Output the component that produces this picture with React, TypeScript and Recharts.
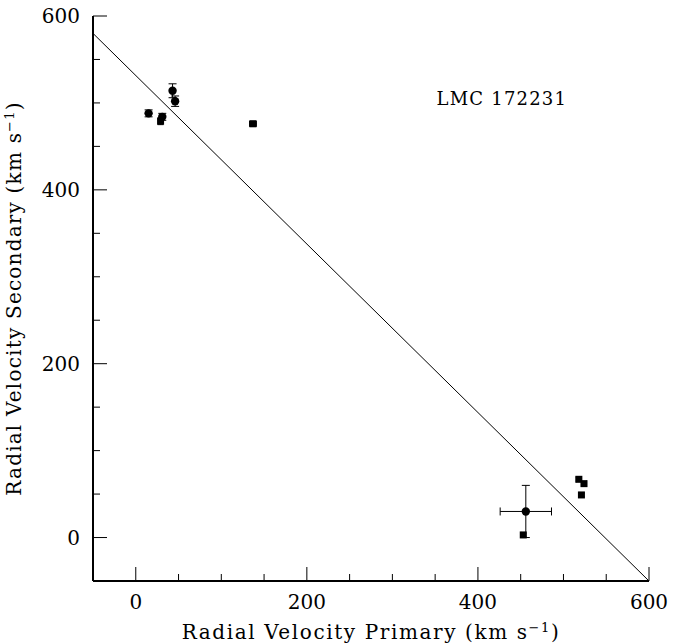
import React from 'react';
import { ScatterChart, Scatter, XAxis, YAxis, ErrorBar, ReferenceLine, ReferenceDot, Label } from 'recharts';

// circles with error bars
const circleX = [15, 31, 43, 46, 456];
const circleY = [488, 484, 514, 502, 30];
const circleErrX = [0, 0, 0, 0, 30];
const circleErrY = [4, 4, 8, 6, 30];

// filled squares
const squareX = [29, 137, 518, 524, 521, 453];
const squareY = [479, 476, 67, 62, 49, 3];
const squareErrX = [2, 4, 3, 3, 2, 2];
const squareErrY = [4, 3, 2, 2, 2, 2];

// diagonal line end points
const lineX = [-50, 600];
const lineY = [580, -50];

const tickValues = [0, 50, 100, 150, 200, 250, 300, 350, 400, 450, 500, 550, 600];
const majorTicks = [0, 200, 400, 600];

const FONT = 'DejaVu Serif';

const circles = circleX.map((x, i) => ({ x, y: circleY[i], ex: circleErrX[i], ey: circleErrY[i] }));
const squares = squareX.map((x, i) => ({ x, y: squareY[i], ex: squareErrX[i], ey: squareErrY[i] }));

const isMajor = (v: number) => majorTicks.includes(v);

const BottomTick = (p: any) => {
  const major = isMajor(p.payload.value);
  return (
    <g>
      <line x1={p.x} y1={p.y} x2={p.x} y2={p.y - (major ? 14 : 7)} stroke="#000" />
      {major && (
        <text x={p.x} y={p.y + 28} textAnchor="middle" fontSize={20} fontFamily={FONT} fill="#000">
          {p.payload.value}
        </text>
      )}
    </g>
  );
};

const TopTick = (p: any) => {
  const major = isMajor(p.payload.value);
  return <line x1={p.x} y1={p.y} x2={p.x} y2={p.y + (major ? 14 : 7)} stroke="#000" />;
};

const LeftTick = (p: any) => {
  const major = isMajor(p.payload.value);
  return (
    <g>
      <line x1={p.x} y1={p.y} x2={p.x + (major ? 14 : 7)} y2={p.y} stroke="#000" />
      {major && (
        <text x={p.x - 13} y={p.y + 7} textAnchor="end" fontSize={20} fontFamily={FONT} fill="#000">
          {p.payload.value}
        </text>
      )}
    </g>
  );
};

const RightTick = (p: any) => {
  const major = isMajor(p.payload.value);
  return <line x1={p.x} y1={p.y} x2={p.x - (major ? 14 : 7)} y2={p.y} stroke="#000" />;
};

const axisLine = { stroke: '#000', strokeWidth: 2 };

export default function App() {
  return (
    <div style={{ position: 'absolute', left: 0, top: 0, background: '#fff' }}>
      <ScatterChart width={685} height={644} margin={{ top: 16, right: 36, left: 0, bottom: 0 }}>
        <XAxis
          xAxisId={0}
          dataKey="x"
          type="number"
          domain={[-50, 600]}
          ticks={tickValues}
          interval={0}
          allowDataOverflow
          height={63}
          tickSize={0}
          tickMargin={0}
          tickLine={false}
          axisLine={axisLine}
          tick={BottomTick}
        >
          <Label
            content={(p: any) => {
              const vb = p.viewBox;
              return (
                <text x={vb.x + vb.width / 2} y={vb.y + 58} textAnchor="middle" fontSize={20} letterSpacing={1.6} fontFamily={FONT} fill="#000">
                  Radial Velocity Primary (km s<tspan dy={-7} fontSize={13}>−1</tspan><tspan dy={7}>)</tspan>
                </text>
              );
            }}
          />
        </XAxis>
        <XAxis
          xAxisId="top"
          orientation="top"
          type="number"
          domain={[-50, 600]}
          ticks={tickValues}
          interval={0}
          allowDataOverflow
          height={0}
          tickSize={0}
          tickMargin={0}
          tickLine={false}
          axisLine={axisLine}
          tick={TopTick}
        />
        <YAxis
          yAxisId={0}
          dataKey="y"
          type="number"
          domain={[-50, 600]}
          ticks={tickValues}
          interval={0}
          allowDataOverflow
          width={93}
          tickSize={0}
          tickMargin={0}
          tickLine={false}
          axisLine={axisLine}
          tick={LeftTick}
        >
          <Label
            content={(p: any) => {
              const vb = p.viewBox;
              const cx = vb.x + 21;
              const cy = vb.y + vb.height / 2;
              return (
                <text x={cx} y={cy} transform={`rotate(-90 ${cx} ${cy})`} textAnchor="middle" fontSize={20} letterSpacing={1.2} fontFamily={FONT} fill="#000">
                  Radial Velocity Secondary (km s<tspan dy={-7} fontSize={13}>−1</tspan><tspan dy={7}>)</tspan>
                </text>
              );
            }}
          />
        </YAxis>
        <YAxis
          yAxisId="right"
          orientation="right"
          type="number"
          domain={[-50, 600]}
          ticks={tickValues}
          interval={0}
          allowDataOverflow
          width={0}
          tickSize={0}
          tickMargin={0}
          tickLine={false}
          axisLine={axisLine}
          tick={RightTick}
        />
        <ReferenceLine
          xAxisId={0}
          yAxisId={0}
          segment={[{ x: lineX[0], y: lineY[0] }, { x: lineX[1], y: lineY[1] }]}
          stroke="#000"
          strokeWidth={1}
        />
        <ReferenceDot
          xAxisId={0}
          yAxisId={0}
          x={428}
          y={506}
          r={0}
          fill="none"
          stroke="none"
          label={(p: any) => {
            const vb = p.viewBox;
            return (
              <text x={vb.x + vb.width / 2} y={vb.y + vb.height / 2 + 7} textAnchor="middle" fontSize={18} letterSpacing={1.2} fontFamily={FONT} fill="#000">
                LMC 172231
              </text>
            );
          }}
        />
        <Scatter
          data={circles}
          xAxisId={0}
          yAxisId={0}
          isAnimationActive={false}
          shape={(p: any) => <circle cx={p.cx} cy={p.cy} r={4.2} fill="#000" />}
        >
          <ErrorBar dataKey="ex" direction="x" width={4} stroke="#000" strokeWidth={1} />
          <ErrorBar dataKey="ey" direction="y" width={4} stroke="#000" strokeWidth={1} />
        </Scatter>
        <Scatter
          data={squares}
          xAxisId={0}
          yAxisId={0}
          isAnimationActive={false}
          shape={(p: any) => <rect x={p.cx - 3.5} y={p.cy - 3.5} width={7} height={7} fill="#000" />}
        >
          <ErrorBar dataKey="ex" direction="x" width={3} stroke="#000" strokeWidth={1} />
          <ErrorBar dataKey="ey" direction="y" width={3} stroke="#000" strokeWidth={1} />
        </Scatter>
      </ScatterChart>
    </div>
  );
}
